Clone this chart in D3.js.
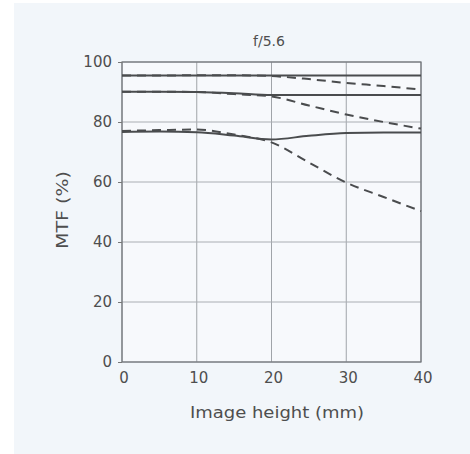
<!DOCTYPE html>
<html><head><meta charset="utf-8">
<script src="https://cdn.jsdelivr.net/npm/d3@7"></script>
<style>body{margin:0;background:#fff}svg{display:block}text{font-family:"DejaVu Sans",sans-serif;fill:#4e4e4e}</style>
</head><body><svg id="c" width="470" height="454"></svg>
<script>
const title = "f/5.6";
const xLabel = "Image height (mm)";
const yLabel = "MTF (%)";
const xTicks = [0, 10, 20, 30, 40];
const yTicks = [0, 20, 40, 60, 80, 100];
const heights = [0, 5, 10, 15, 20, 25, 30, 35, 40];
const s10 = [95.5, 95.5, 95.5, 95.5, 95.5, 95.5, 95.5, 95.5, 95.5];
const m10 = [95.5, 95.5, 95.6, 95.6, 95.3, 94.3, 93, 92, 90.8];
const s20 = [90.1, 90.1, 90.0, 89.6, 89.0, 89.0, 89.0, 89.0, 89.0];
const m20 = [90.1, 90.1, 90.0, 89.3, 88.5, 85.5, 82.5, 80, 77.8];
const s40 = [76.7, 76.8, 76.6, 75.5, 74.2, 75.4, 76.3, 76.5, 76.5];
const m40 = [77.0, 77.3, 77.5, 75.8, 73.2, 66.5, 59.8, 55, 50.3];
const series = [
  {vals: s10, dash: null}, {vals: m10, dash: "9,6"},
  {vals: s20, dash: null}, {vals: m20, dash: "9,6"},
  {vals: s40, dash: null}, {vals: m40, dash: "9,6"}
];

const svg = d3.select("#c");
svg.append("rect").attr("x", 14).attr("y", 3).attr("width", 456).attr("height", 451).attr("fill", "#f2f6fa");
const L = 122, R = 421, T = 62, B = 362;
const x = d3.scaleLinear().domain([0, 40]).range([L, R]);
const y = d3.scaleLinear().domain([0, 100]).range([B, T]);

const g = svg.append("g");
g.append("rect").attr("x", L).attr("y", T).attr("width", R - L).attr("height", B - T).attr("fill", "#f7f9fc");
g.selectAll(".gx").data(xTicks).join("line").attr("x1", d => x(d)).attr("x2", d => x(d)).attr("y1", T).attr("y2", B)
  .attr("stroke", "#a0a4a9").attr("stroke-width", 1);
g.selectAll(".gy").data(yTicks).join("line").attr("y1", d => y(d)).attr("y2", d => y(d)).attr("x1", L).attr("x2", R)
  .attr("stroke", "#aaaeb3").attr("stroke-width", 1);
g.append("rect").attr("x", L).attr("y", T).attr("width", R - L).attr("height", B - T).attr("fill", "none").attr("stroke", "#707478").attr("stroke-width", 1.2);

const xa = svg.append("g").attr("transform", `translate(0,${B})`).call(d3.axisBottom(x).tickValues(xTicks).tickSize(0).tickPadding(10));
const ya = svg.append("g").attr("transform", `translate(${L},0)`).call(d3.axisLeft(y).tickValues(yTicks).tickSize(4).tickPadding(6));
[xa, ya].forEach(a => { a.select(".domain").remove(); a.selectAll("line").attr("stroke", "#777"); a.selectAll("text").style("font-size", "15px").style("font-family", "DejaVu Sans").attr("fill", "#555"); });
xa.selectAll("text").attr("dx", 1.5);

const line = d3.line().x((d, i) => x(heights[i])).y(d => y(d)).curve(d3.curveMonotoneX);
series.forEach(s => {
  svg.append("path").attr("d", line(s.vals)).attr("fill", "none").attr("stroke", "#4a4c4e")
    .attr("stroke-width", 2).attr("stroke-dasharray", s.dash);
});

svg.append("text").attr("x", 269).attr("y", 46).attr("text-anchor", "middle").style("font-size", "14px").text(title);
svg.append("text").attr("x", 277).attr("y", 418).attr("text-anchor", "middle").style("font-size", "16px")
  .attr("textLength", 174).attr("lengthAdjust", "spacingAndGlyphs").text(xLabel);
svg.append("text").attr("transform", `translate(68,210) rotate(-90)`).attr("text-anchor", "middle").style("font-size", "16px")
  .attr("textLength", 78).attr("lengthAdjust", "spacingAndGlyphs").text(yLabel);
</script></body></html>
